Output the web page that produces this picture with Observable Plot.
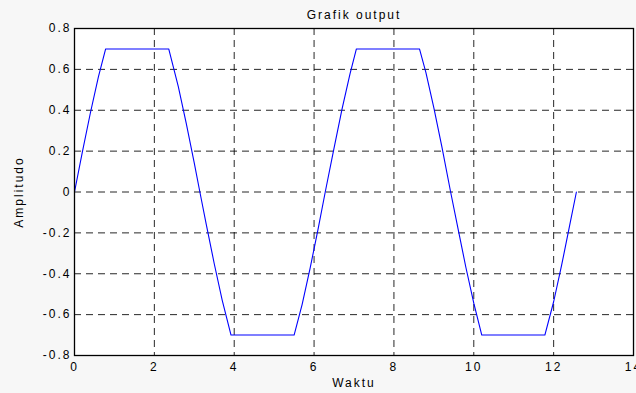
<!DOCTYPE html>
<html><head><meta charset="utf-8">
<script src="https://cdn.jsdelivr.net/npm/d3@7"></script>
<script src="https://cdn.jsdelivr.net/npm/@observablehq/plot@0.6"></script>
<style>
html,body{margin:0;padding:0;background:#f7f7f7;}
#chart svg{display:block}
#chart svg text{letter-spacing:2px}
</style>
</head><body><div id="chart"></div>
<script>
const waktu = [0, 0.2, 0.4, 0.6, 0.78, 2.36, 2.6, 2.8, 3.0, 3.14, 3.3, 3.5, 3.7, 3.92,
  5.5, 5.7, 5.9, 6.1, 6.28, 6.5, 6.7, 6.9, 7.06, 8.64, 8.8, 9.0, 9.2, 9.42, 9.6, 9.8, 10.0, 10.2,
  11.78, 12.0, 12.2, 12.4, 12.57];
const amplitudo = [0, 0.199, 0.389, 0.565, 0.70, 0.70, 0.516, 0.335, 0.141, 0.0, -0.158, -0.351, -0.530, -0.70,
  -0.70, -0.551, -0.374, -0.182, 0.0, 0.215, 0.405, 0.578, 0.70, 0.70, 0.585, 0.412, 0.222, 0.0, -0.174, -0.367, -0.544, -0.70,
  -0.70, -0.537, -0.358, -0.165, 0.0];
const xTicks = [0, 2, 4, 6, 8, 10, 12, 14];
const xTickLabels = ["0", "2", "4", "6", "8", "10", "12", "14"];
const yTicks = [-0.8, -0.6, -0.4, -0.2, 0, 0.2, 0.4, 0.6, 0.8];
const yTickLabels = ["-0.8", "-0.6", "-0.4", "-0.2", "0", "0.2", "0.4", "0.6", "0.8"];
const title = "Grafik output";
const xLabel = "Waktu";
const yLabel = "Amplitudo";

const data = waktu.map((t, i) => ({t, y: amplitudo[i]}));
const font = "'Liberation Sans', Arial, Helvetica, sans-serif";

const chart = Plot.plot({
  width: 636, height: 393,
  marginLeft: 74, marginRight: 3, marginTop: 28, marginBottom: 38,
  style: {fontFamily: font, fontSize: "12px", background: "transparent", color: "black"},
  x: {domain: [0, 14]},
  y: {domain: [-0.8, 0.8]},
  marks: [
    Plot.frame({fill: "white"}),
    Plot.gridX(xTicks, {stroke: "black", strokeOpacity: 0.85, strokeDasharray: "7,5"}),
    Plot.gridY(yTicks, {stroke: "black", strokeOpacity: 0.85, strokeDasharray: "7,5"}),
    Plot.line(data, {x: "t", y: "y", stroke: "#0000ff", strokeWidth: 1.1}),
    Plot.frame({stroke: "black", strokeWidth: 1.3}),
    Plot.axisX(xTicks, {tickSize: 0, tickPadding: 7, label: null,
      tickFormat: d => xTickLabels[xTicks.indexOf(d)]}),
    Plot.axisY(yTicks, {tickSize: 0, tickPadding: 3, label: null,
      tickFormat: d => yTickLabels[yTicks.indexOf(d)]}),
    Plot.text([title], {frameAnchor: "top", lineAnchor: "bottom", dy: -10, fontSize: 12}),
    Plot.text([xLabel], {frameAnchor: "bottom", lineAnchor: "top", dy: 23, fontSize: 12}),
    Plot.text([yLabel], {frameAnchor: "left", textAnchor: "middle", rotate: -90, dx: -55, fontSize: 12})
  ]
});
document.getElementById("chart").append(chart);
</script>
</body></html>
